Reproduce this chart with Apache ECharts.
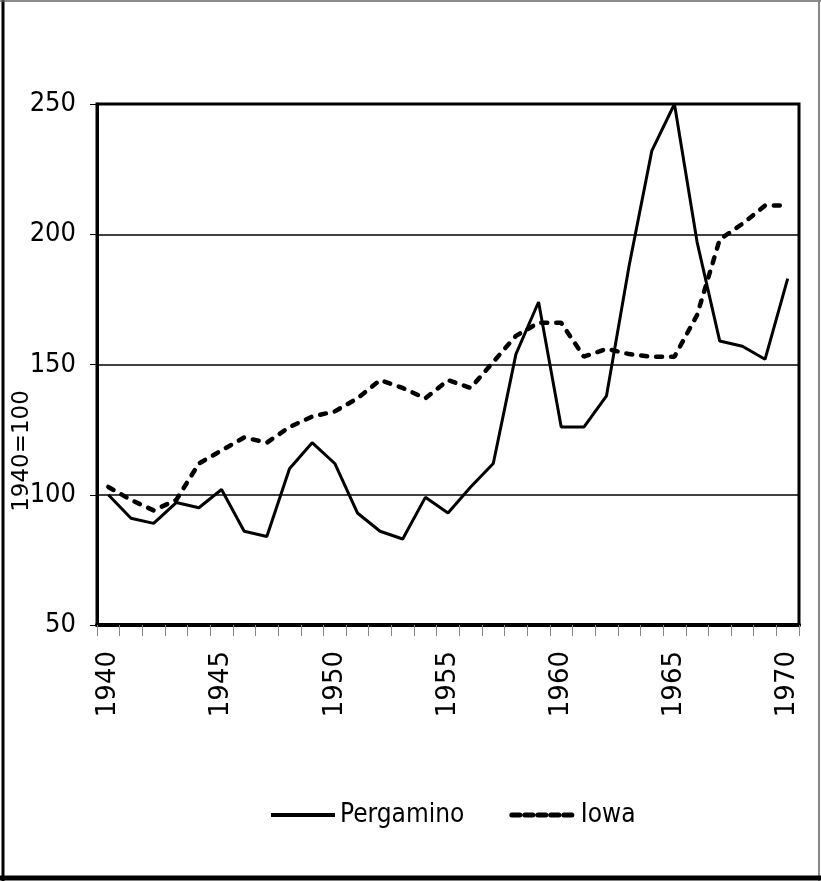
<!DOCTYPE html>
<html>
<head>
<meta charset="utf-8">
<script src="https://cdn.jsdelivr.net/npm/echarts@6/dist/echarts.min.js"></script>
<style>
  html, body { margin: 0; padding: 0; background: #fff; }
  #chart { width: 821px; height: 881px; }
</style>
</head>
<body>
<div id="chart"></div>
<script>
  // years 1940..1970, index numbers (1940=100)
  var years = ['1940', '1941', '1942', '1943', '1944', '1945', '1946', '1947', '1948', '1949',
    '1950', '1951', '1952', '1953', '1954', '1955', '1956', '1957', '1958', '1959',
    '1960', '1961', '1962', '1963', '1964', '1965', '1966', '1967', '1968', '1969', '1970']
  var pergamino = [100, 91, 89, 97, 95, 102, 86, 84, 110, 120,
    112, 93, 86, 83, 99, 93, 103, 112, 154, 174,
    126, 126, 138, 188, 232, 250, 197, 159, 157, 152, 183]
  var iowa = [103, 98, 94, 98, 112, 117, 122, 120, 126, 130,
    132, 137, 144, 141, 137, 144, 141, 151, 161, 166,
    166, 153, 156, 154, 153, 153, 169, 198, 204, 211, 211]
  var yTicks = [50, 100, 150, 200, 250]

  var chart = echarts.init(document.getElementById('chart'))
  var narrow = "'Liberation Sans Narrow', 'DejaVu Sans Condensed', 'Liberation Sans', sans-serif"
  var wide = "'DejaVu Sans', 'Liberation Sans', sans-serif"

  var option = {
    backgroundColor: '#fff',
    animation: false,
    grid: {
      left: 97,
      right: 22,
      top: 104,
      bottom: 256,
      show: true,
      borderColor: '#000',
      borderWidth: 3,
      outerBoundsMode: 'none'
    },
    legend: {
      orient: 'horizontal',
      left: 269,
      top: 802,
      padding: 0,
      itemWidth: 64,
      itemHeight: 14,
      itemGap: 45,
      itemStyle: { opacity: 0 },
      textStyle: {
        fontFamily: narrow,
        fontSize: 26,
        color: '#000'
      },
      data: [
        { name: 'Pergamino', lineStyle: { width: 4, color: '#000' } },
        { name: 'Iowa', lineStyle: { width: 5, color: '#000', type: [8, 5] } }
      ]
    },
    xAxis: {
      type: 'category',
      boundaryGap: true,
      data: years,
      axisLine: { show: true, lineStyle: { color: '#000', width: 4 } },
      axisTick: { show: true, interval: 0, length: 11, lineStyle: { color: '#888', width: 1 } },
      axisLabel: {
        interval: 4,
        rotate: 90,
        margin: 26,
        color: '#000',
        fontFamily: wide,
        fontSize: 26
      },
      splitLine: { show: false }
    },
    yAxis: {
      type: 'value',
      min: yTicks[0],
      max: yTicks[yTicks.length - 1],
      interval: 50,
      axisLine: { show: true, lineStyle: { color: '#000', width: 3 } },
      axisTick: { show: true, length: 7, lineStyle: { color: '#000', width: 1 } },
      axisLabel: {
        margin: 21,
        color: '#000',
        fontFamily: narrow,
        fontSize: 27
      },
      splitLine: { show: true, lineStyle: { color: '#000', width: 1.5 } }
    },
    graphic: [
      { type: 'line', shape: { x1: 3, y1: 0, x2: 3, y2: 881 }, style: { stroke: '#000', lineWidth: 3 } },
      { type: 'line', shape: { x1: 0, y1: 1, x2: 821, y2: 1 }, style: { stroke: '#666', lineWidth: 1.5 } },
      { type: 'line', shape: { x1: 819, y1: 0, x2: 819, y2: 881 }, style: { stroke: '#888', lineWidth: 2 } },
      { type: 'line', shape: { x1: 0, y1: 878, x2: 821, y2: 878 }, style: { stroke: '#000', lineWidth: 5 } },
      // y axis title
      {
        type: 'text',
        x: 22,
        y: 451,
        rotation: Math.PI / 2,
        style: {
          text: '1940=100',
          fontFamily: wide,
          fontSize: 23,
          fill: '#000',
          align: 'center',
          verticalAlign: 'middle'
        }
      }
    ],
    series: [
      {
        name: 'Iowa',
        type: 'line',
        symbol: 'none',
        data: iowa,
        lineStyle: { color: '#000', width: 4.5, type: [6, 9], cap: 'round' },
        itemStyle: { color: '#000' },
        z: 3
      },
      {
        name: 'Pergamino',
        type: 'line',
        symbol: 'none',
        data: pergamino,
        lineStyle: { color: '#000', width: 3 },
        itemStyle: { color: '#000' },
        z: 4
      }
    ]
  }
  chart.setOption(option)
</script>
</body>
</html>
